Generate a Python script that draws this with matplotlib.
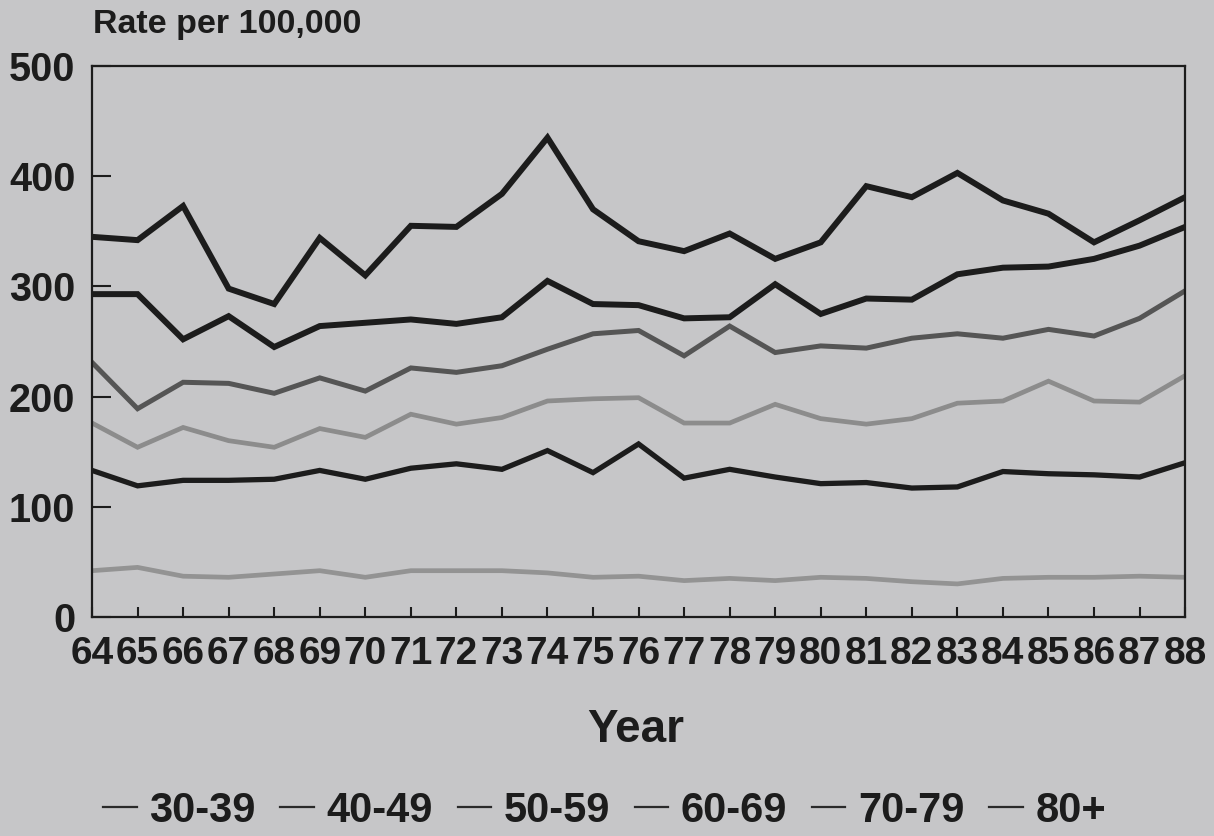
import matplotlib
matplotlib.use("Agg")
import matplotlib.pyplot as plt
from matplotlib.lines import Line2D

plt.rcParams['font.family'] = ['Liberation Sans', 'DejaVu Sans']
plt.rcParams['font.weight'] = 'bold'

years = list(range(64, 89))
age_groups = ["30-39", "40-49", "50-59", "60-69", "70-79", "80+"]

rate_30_39 = [42, 45, 37, 36, 39, 42, 36, 42, 42, 42, 40, 36, 37,
              33, 35, 33, 36, 35, 32, 30, 35, 36, 36, 37, 36]
rate_40_49 = [133, 119, 124, 124, 125, 133, 125, 135, 139, 134, 151, 131, 157,
              126, 134, 127, 121, 122, 117, 118, 132, 130, 129, 127, 140]
rate_50_59 = [176, 154, 172, 160, 154, 171, 163, 184, 175, 181, 196, 198, 199,
              176, 176, 193, 180, 175, 180, 194, 196, 214, 196, 195, 219]
rate_60_69 = [231, 189, 213, 212, 203, 217, 205, 226, 222, 228, 243, 257, 260,
              237, 264, 240, 246, 244, 253, 257, 253, 261, 255, 271, 296]
rate_70_79 = [293, 293, 252, 273, 245, 264, 267, 270, 266, 272, 305, 284, 283,
              271, 272, 302, 275, 289, 288, 311, 317, 318, 325, 337, 354]
rate_80_plus = [345, 342, 373, 298, 284, 344, 310, 355, 354, 384, 435, 370, 341,
                332, 348, 325, 340, 391, 381, 403, 378, 366, 340, 360, 381]

series = [rate_30_39, rate_40_49, rate_50_59, rate_60_69, rate_70_79, rate_80_plus]
colors = ['#939393', '#1c1c1c', '#8c8c8c', '#555555', '#1c1c1c', '#1c1c1c']
widths = [3.4, 3.8, 3.4, 3.6, 4.3, 4.3]

bg = '#c6c6c8'
fig = plt.figure(figsize=(12.14, 8.36), dpi=100, facecolor=bg)
ax = fig.add_axes([0.0758, 0.262, 0.9004, 0.659])
ax.set_facecolor(bg)

for vals, c, w in zip(series, colors, widths):
    ax.plot(years, vals, color=c, lw=w, solid_joinstyle='miter')

ax.set_xlim(64, 88)
ax.set_ylim(0, 500)
ax.set_xticks(years)
ax.set_xticklabels([str(y) for y in years])
ax.set_yticks([0, 100, 200, 300, 400, 500])
ax.tick_params(axis='y', direction='in', length=14, width=1.5, pad=12,
               labelsize=28.5, colors='#1c1c1c')
ax.tick_params(axis='x', direction='in', length=7, width=1.5, pad=14,
               labelsize=28, colors='#1c1c1c')
for s in ax.spines.values():
    s.set_linewidth(1.6)
    s.set_color('#1c1c1c')

fig.text(0.0766, 0.9605, "Rate per 100,000", fontsize=24.5, fontweight='bold',
         color='#1c1c1c', va='baseline', ha='left')
fig.text(0.524, 0.1124, "Year", fontsize=33, fontweight='bold',
         color='#1c1c1c', va='baseline', ha='center')

handles = [Line2D([0], [0], color='#2a2a2a', lw=1.6) for _ in age_groups]
fig.legend(handles, age_groups, loc='center', bbox_to_anchor=(0.498, 0.030),
           ncol=6, frameon=False, fontsize=30, handlelength=0.8,
           handletextpad=0.3, columnspacing=0.6, labelcolor='#1c1c1c')

fig.savefig("out.png", dpi=100, facecolor=bg)
